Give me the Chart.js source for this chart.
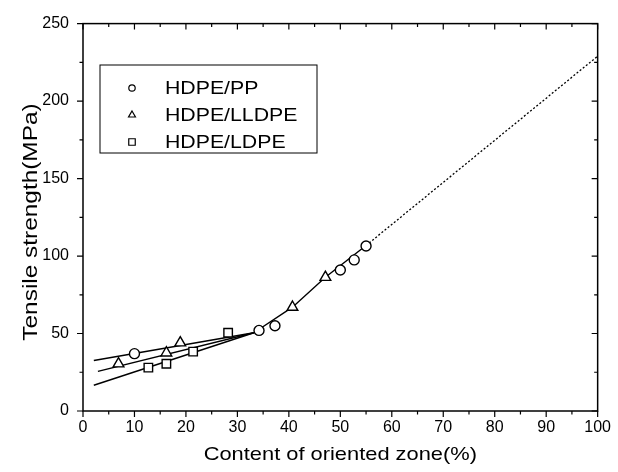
<!DOCTYPE html>
<html>
<head>
<meta charset="utf-8">
<script src="https://cdn.jsdelivr.net/npm/chart.js@4/dist/chart.umd.min.js"></script>
<style>
  html, body { margin: 0; padding: 0; background: #fff; }
  #wrap { width: 618px; height: 472px; }
</style>
</head>
<body>
<div id="wrap"><canvas id="myChart" width="618" height="472"></canvas></div>
<script>
const seriesNames = ["HDPE/PP", "HDPE/LLDPE", "HDPE/LDPE"];
const xTitle = "Content of oriented zone(%)";
const yTitle = "Tensile strength(MPa)";

// measured points
const ppX = [10.0, 34.2, 37.3, 50.0, 52.7, 55.0];
const ppY = [37.0, 52.0, 55.0, 91.0, 97.5, 106.5];
const llX = [6.9, 16.2, 18.9, 40.7, 47.1];
const llY = [30.5, 37.5, 44.0, 67.0, 86.3];
const ldX = [12.7, 16.2, 21.4, 28.2];
const ldY = [28.0, 30.5, 38.3, 50.5];

// fitted lines
const fitPPX = [2.1, 33.2];
const fitPPY = [32.6, 50.5];
const fitLLX = [2.9, 33.2];
const fitLLY = [25.6, 50.5];
const fitLDX = [2.1, 33.2];
const fitLDY = [16.6, 50.5];
const upperX = [33.2, 40.7, 47.1, 55.0];
const upperY = [50.5, 67.0, 86.3, 106.8];
const extX = [55.0, 100];
const extY = [106.8, 229];

const xMin = 0, xMax = 100, xStep = 10;
const yMin = 0, yMax = 250, yStep = 50;

const FONT = "'Liberation Sans', Arial, Helvetica, sans-serif";

function pts(xs, ys) {
  return xs.map((x, i) => ({ x: x, y: ys[i] }));
}

function lineSet(xs, ys, dash) {
  return {
    type: "line",
    data: pts(xs, ys),
    borderColor: "#000",
    borderWidth: dash ? 1.3 : 1.4,
    borderDash: dash || [],
    pointRadius: 0,
    showLine: true,
    fill: false,
    order: 2,
  };
}

function markerSet(label, xs, ys, style, radius) {
  return {
    label: label,
    data: pts(xs, ys),
    pointStyle: style,
    pointRadius: radius,
    pointBorderWidth: 1.4,
    pointBorderColor: "#000",
    pointBackgroundColor: "#fff",
    showLine: false,
    order: 1,
  };
}

const markers = [
  markerSet(seriesNames[0], ppX, ppY, "circle", 5),
  markerSet(seriesNames[1], llX, llY, "triangle", 6.2),
  markerSet(seriesNames[2], ldX, ldY, "rect", 6),
];

// stretched text, centred on (x, y)
function wideText(ctx, text, x, y, sx, angle) {
  ctx.save();
  ctx.translate(x, y);
  ctx.rotate(angle);
  ctx.scale(sx, 1);
  ctx.textAlign = "center";
  ctx.textBaseline = "middle";
  ctx.fillText(text, 0, 0);
  ctx.restore();
}

// axes frame, inward/outward ticks, axis titles and the boxed legend
const framePlugin = {
  id: "frame",
  afterDatasetsDraw(chart) {
    const { ctx, chartArea: a, scales } = chart;
    const xs = scales.x, ys = scales.y;
    ctx.save();
    ctx.strokeStyle = "#000";
    ctx.lineWidth = 1.5;
    ctx.strokeRect(a.left, a.top, a.right - a.left, a.bottom - a.top);

    ctx.lineWidth = 1.2;
    ctx.beginPath();
    for (let v = xMin; v <= xMax; v += xStep / 2) {
      const px = xs.getPixelForValue(v);
      const len = v % xStep === 0 ? 6 : 3.5;
      ctx.moveTo(px, a.bottom); ctx.lineTo(px, a.bottom + len);
      ctx.moveTo(px, a.top); ctx.lineTo(px, a.top + len);
    }
    for (let v = yMin; v <= yMax; v += yStep / 2) {
      const py = ys.getPixelForValue(v);
      const len = v % yStep === 0 ? 6 : 3.5;
      ctx.moveTo(a.left, py); ctx.lineTo(a.left - len, py);
      ctx.moveTo(a.right, py); ctx.lineTo(a.right - len, py);
    }
    ctx.stroke();

    // axis titles
    ctx.fillStyle = "#000";
    ctx.font = "19px " + FONT;
    wideText(ctx, xTitle, (a.left + a.right) / 2, 455, 1.15, 0);
    ctx.font = "20px " + FONT;
    wideText(ctx, yTitle, 31, 222, 1.22, -Math.PI / 2);

    // legend
    const bx = 100, by = 65, bw = 217, bh = 88;
    ctx.lineWidth = 1;
    ctx.strokeRect(bx, by, bw, bh);
    const rows = [88, 115, 142];
    const styles = ["circle", "triangle", "rect"];
    const radii = [3.2, 4, 4.6];
    ctx.font = "19px " + FONT;
    ctx.textBaseline = "middle";
    seriesNames.forEach((name, i) => {
      ctx.lineWidth = 1.2;
      ctx.fillStyle = "#fff";
      ctx.strokeStyle = "#000";
      Chart.helpers.drawPoint(ctx, { pointStyle: styles[i], radius: radii[i], borderWidth: 1.2 }, 132, rows[i]);
      ctx.fillStyle = "#000";
      ctx.save();
      ctx.translate(165, rows[i] + 1);
      ctx.scale(1.12, 1);
      ctx.fillText(name, 0, 0);
      ctx.restore();
    });
    ctx.restore();
  },
};

new Chart(document.getElementById("myChart"), {
  type: "scatter",
  data: {
    datasets: [
      ...markers,
      lineSet(fitPPX, fitPPY),
      lineSet(fitLLX, fitLLY),
      lineSet(fitLDX, fitLDY),
      lineSet(upperX, upperY),
      lineSet(extX, extY, [2, 2]),
    ],
  },
  options: {
    responsive: false,
    animation: false,
    layout: { padding: { top: 20, right: 11, left: 0, bottom: 0 } },
    plugins: {
      legend: { display: false },
      tooltip: { enabled: false },
    },
    scales: {
      x: {
        type: "linear",
        min: xMin,
        max: xMax,
        afterFit: (s) => { s.height = 61; },
        grid: { display: false, drawTicks: false },
        border: { display: false },
        ticks: {
          stepSize: xStep,
          padding: 7,
          color: "#000",
          font: { family: FONT, size: 16 },
        },
      },
      y: {
        type: "linear",
        min: yMin,
        max: yMax,
        afterFit: (s) => { s.width = 83; },
        grid: { display: false, drawTicks: false },
        border: { display: false },
        ticks: {
          stepSize: yStep,
          padding: 14,
          color: "#000",
          font: { family: FONT, size: 16 },
        },
      },
    },
  },
  plugins: [framePlugin],
});
</script>
</body>
</html>
